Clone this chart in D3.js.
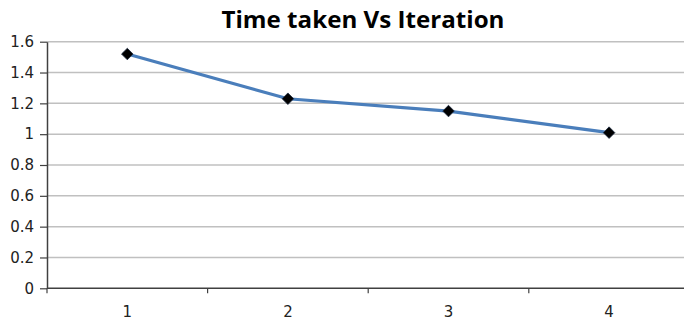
<!DOCTYPE html>
<html>
<head>
<meta charset="utf-8">
<script src="https://cdn.jsdelivr.net/npm/d3@7"></script>
<style>
  html, body { margin: 0; padding: 0; background: #fff; overflow: hidden; }
  svg { display: block; }
</style>
</head>
<body>
<svg id="chart" width="684" height="320"></svg>
<script>
// Iteration number vs time taken
const iterations = [1, 2, 3, 4];
const timeTaken = [1.52, 1.23, 1.15, 1.01];
const yTicks = [0, 0.2, 0.4, 0.6, 0.8, 1, 1.2, 1.4, 1.6];
const chartTitle = "Time taken Vs Iteration";

const svg = d3.select("#chart");
const plotLeft = 47, plotTop = 41.7, plotBottom = 288.3, catStep = 160.6;

const x = d3.scaleBand()
  .domain(iterations)
  .range([plotLeft, plotLeft + catStep * iterations.length])
  .paddingInner(0).paddingOuter(0);

const y = d3.scaleLinear().domain([0, 1.6]).range([plotBottom, plotTop]);

// horizontal gridlines
svg.append("g")
  .selectAll("line")
  .data(yTicks.filter(d => d > 0))
  .join("line")
  .attr("x1", plotLeft).attr("x2", 684)
  .attr("y1", d => y(d)).attr("y2", d => y(d))
  .attr("stroke", "#c0c0c0").attr("stroke-width", 1.5);

// y axis
const yAxis = svg.append("g")
  .attr("transform", `translate(${plotLeft},0)`)
  .call(d3.axisLeft(y).tickValues(yTicks).tickFormat(d => String(d)).tickSize(7).tickSizeOuter(0).tickPadding(6));
yAxis.select(".domain").attr("stroke", "#404040").attr("stroke-width", 1.5);
yAxis.selectAll(".tick line").attr("stroke", "#404040").attr("stroke-width", 1.2);
yAxis.selectAll(".tick text")
  .attr("font-family", "DejaVu Sans").attr("font-size", 15).attr("fill", "#222");

// x axis with ticks at category boundaries
const xg = svg.append("g").attr("transform", `translate(0,${plotBottom})`);
xg.append("line")
  .attr("x1", plotLeft).attr("x2", 684)
  .attr("stroke", "#404040").attr("stroke-width", 1.5);
xg.selectAll("line.bound")
  .data(iterations)
  .join("line")
  .attr("class", "bound")
  .attr("x1", d => x(d)).attr("x2", d => x(d))
  .attr("y1", 0).attr("y2", 5)
  .attr("stroke", "#404040").attr("stroke-width", 1.2);
xg.selectAll("text")
  .data(iterations)
  .join("text")
  .attr("x", d => x(d) + x.bandwidth() / 2)
  .attr("y", 29)
  .attr("text-anchor", "middle")
  .attr("font-family", "DejaVu Sans").attr("font-size", 15).attr("fill", "#222")
  .text(d => d);

// series line
const cx = d => x(d) + x.bandwidth() / 2;
const line = d3.line()
  .x((d, i) => cx(iterations[i]))
  .y(d => y(d));
svg.append("path")
  .datum(timeTaken)
  .attr("d", line)
  .attr("fill", "none")
  .attr("stroke", "#4a7ebb")
  .attr("stroke-width", 3.2);

// diamond markers
const diamond = d3.symbol().type(d3.symbolDiamond2).size(85);
svg.append("g")
  .selectAll("path")
  .data(timeTaken)
  .join("path")
  .attr("d", diamond)
  .attr("transform", (d, i) => `translate(${cx(iterations[i])},${y(d)})`)
  .attr("fill", "#000")
  .attr("stroke", "#1a2a40").attr("stroke-width", 0.8);

// title
svg.append("text")
  .attr("x", 363).attr("y", 28)
  .attr("text-anchor", "middle")
  .attr("font-family", "Open Sans").attr("font-weight", "bold").attr("font-size", 23)
  .attr("textLength", 283).attr("lengthAdjust", "spacingAndGlyphs")
  .attr("fill", "#000")
  .text(chartTitle);
</script>
</body>
</html>
